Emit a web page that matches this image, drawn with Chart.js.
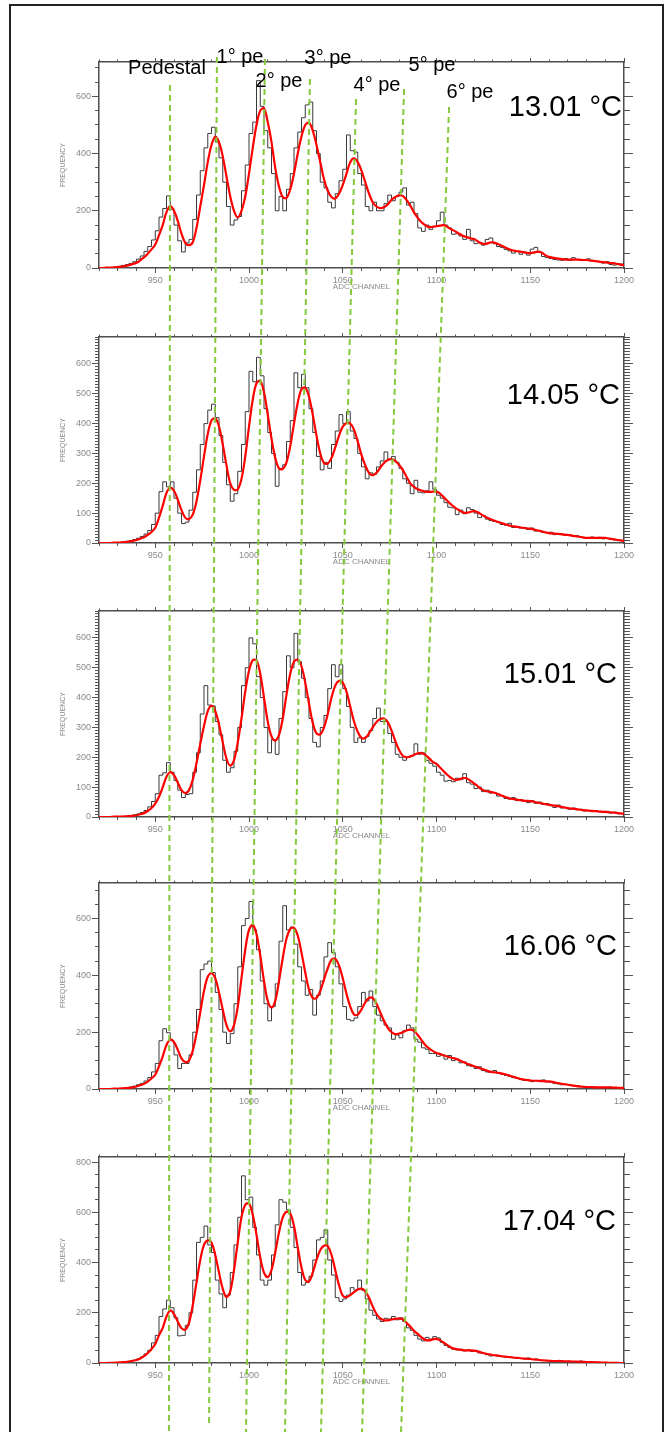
<!DOCTYPE html>
<html lang="en">
<head>
  <meta charset="UTF-8">
  <title>ADC spectra vs temperature</title>
  <script src="https://cdn.jsdelivr.net/npm/chart.js"></script>
  <style>
    body {
      margin: 0;
      width: 665px;
      height: 1432px;
      position: relative;
      overflow: hidden;
      background: #fff;
      font-family: 'Liberation Sans', Arial, sans-serif;
    }
    .frame {
      position: absolute;
      left: 9px;
      top: 4px;
      width: 651px;
      height: 1460px;
      border: 2px solid #222;
    }
    .panel { position: absolute; left: 55px; }
    #overlay { position: absolute; left: 0; top: 0; pointer-events: none; z-index: 2; }
    .pe {
      position: absolute;
      font-size: 20px;
      line-height: 1;
      white-space: nowrap;
      transform: translate(-50%, -49%);
      z-index: 3;
    }
    .temp {
      position: absolute;
      font-size: 29px;
      line-height: 1;
      white-space: nowrap;
      z-index: 3;
    }
  </style>
</head>
<body>
  <div class="frame"></div>

  <canvas class="panel" id="p0" width="583" height="240" style="top:54px"></canvas>
  <canvas class="panel" id="p1" width="583" height="240" style="top:329px"></canvas>
  <canvas class="panel" id="p2" width="583" height="240" style="top:603px"></canvas>
  <canvas class="panel" id="p3" width="583" height="240" style="top:875px"></canvas>
  <canvas class="panel" id="p4" width="583" height="240" style="top:1149px"></canvas>
  <canvas id="overlay" width="665" height="1432"></canvas>

  <!-- peak labels -->
  <div class="pe" style="left:167px; top:67px">Pedestal</div>
  <div class="pe" style="left:240px; top:56px">1° pe</div>
  <div class="pe" style="left:279px; top:80px">2° pe</div>
  <div class="pe" style="left:328px; top:57px">3° pe</div>
  <div class="pe" style="left:377px; top:84px">4° pe</div>
  <div class="pe" style="left:432px; top:64px">5° pe</div>
  <div class="pe" style="left:470px; top:91px">6° pe</div>

  <!-- temperatures -->
  <div class="temp" style="right:43px; top:92px">13.01 °C</div>
  <div class="temp" style="right:45px; top:380px">14.05 °C</div>
  <div class="temp" style="right:48px; top:659px">15.01 °C</div>
  <div class="temp" style="right:48px; top:931px">16.06 °C</div>
  <div class="temp" style="right:49px; top:1206px">17.04 °C</div>

  <script>
    // x axis: ADC channel, histogram bins of 2 channels from 920
    const channelMin = 920;
    const channelMax = 1200;
    const binWidth = 2;

    const yMaxes = [720, 690, 690, 725, 820];
    const yMajorSteps = [200, 100, 100, 200, 200];
    const yMinorSteps = [50, 10, 10, 50, 50];

    // histogram counts per 2-channel bin (140 bins, 920..1198)
    const hist1301 = [
      0, 0, 1, 2, 2, 4, 6, 9, 12, 16,
      22, 31, 42, 58, 75, 98, 130, 178, 208, 252,
      205, 150, 95, 56, 88, 100, 170, 255, 340, 420,
      470, 492, 440, 385, 300, 215, 150, 168, 180, 270,
      360, 470, 510, 655, 565, 480, 420, 330, 200, 250,
      200, 275, 330, 420, 475, 525, 570, 580, 480, 400,
      300, 280, 230, 210, 260, 305, 345, 465, 410, 405,
      330, 290, 215, 200, 230, 200, 200, 225, 255, 235,
      250, 265, 280, 220, 230, 190, 140, 128, 150, 135,
      145, 165, 195, 150, 140, 118, 120, 112, 100, 135,
      95, 85, 88, 80, 100, 105, 85, 75, 72, 65,
      60, 52, 58, 48, 56, 45, 66, 72, 55, 40,
      36, 33, 30, 28, 27, 33, 27, 36, 30, 27,
      28, 32, 25, 24, 22, 17, 22, 12, 10, 14
    ];
    const hist1405 = [
      0, 0, 0, 0, 1, 1, 2, 4, 6, 8,
      12, 16, 22, 30, 42, 62, 100, 172, 205, 188,
      205, 150, 100, 65, 70, 110, 170, 245, 330, 400,
      445, 465, 420, 360, 270, 195, 140, 165, 240, 330,
      440, 575, 540, 622, 560, 450, 370, 300, 190, 250,
      262, 340, 410, 570, 520, 565, 520, 450, 370, 290,
      245, 270, 250, 330, 375, 430, 400, 440, 375, 350,
      300, 255, 215, 235, 230, 255, 275, 305, 280, 290,
      270, 250, 215, 200, 165, 210, 170, 168, 175, 205,
      180, 160, 150, 135, 120, 118, 95, 110, 98, 118,
      112, 100, 85, 92, 80, 75, 72, 70, 62, 60,
      66, 52, 55, 50, 52, 45, 50, 40, 42, 35,
      34, 36, 28, 32, 30, 26, 28, 22, 24, 20,
      17, 16, 20, 15, 19, 14, 15, 12, 10, 8
    ];
    const hist1501 = [
      0, 0, 0, 0, 1, 1, 1, 2, 3, 5,
      7, 10, 15, 22, 34, 52, 78, 140, 148, 182,
      150, 122, 90, 65, 75, 78, 150, 215, 345, 440,
      375, 372, 320, 275, 190, 150, 165, 220, 300, 440,
      500, 600, 580, 470, 400, 300, 215, 260, 210, 330,
      420, 540, 500, 615, 520, 465, 400, 330, 250, 235,
      300, 340, 430, 510, 470, 510, 430, 370, 300, 250,
      265, 250, 270, 290, 330, 365, 320, 320, 280, 250,
      210, 200, 190, 200, 205, 245, 210, 215, 190, 180,
      170, 150, 140, 120, 122, 118, 130, 125, 145, 115,
      110, 95, 100, 85, 90, 80, 82, 70, 72, 62,
      60, 65, 55, 58, 52, 48, 55, 46, 50, 42,
      45, 38, 32, 40, 30, 32, 26, 30, 24, 26,
      20, 22, 18, 21, 17, 15, 19, 13, 16, 11
    ];
    const hist1606 = [
      0, 0, 0, 0, 1, 1, 2, 3, 5, 7,
      10, 15, 20, 28, 40, 60, 90, 170, 212, 198,
      170, 120, 72, 90, 90, 120, 200, 280, 420, 440,
      450, 410, 340, 280, 200, 160, 195, 300, 430, 575,
      600, 660, 560, 490, 380, 300, 240, 290, 370, 520,
      645, 560, 570, 510, 430, 380, 330, 350, 260, 330,
      380, 465, 515, 480, 430, 370, 290, 245, 240, 250,
      290, 340, 310, 345, 290, 260, 240, 225, 215, 175,
      190, 180, 205, 225, 215, 175, 165, 145, 140, 125,
      125, 115, 120, 105, 118, 100, 105, 92, 95, 82,
      80, 72, 78, 65, 60, 58, 65, 55, 52, 48,
      45, 40, 38, 33, 30, 32, 26, 30, 26, 32,
      25, 24, 20, 18, 15, 16, 14, 12, 12, 8,
      7, 8, 6, 7, 5, 6, 5, 6, 4, 5
    ];
    const hist1704 = [
      0, 0, 0, 0, 1, 1, 2, 3, 5, 7,
      11, 16, 24, 36, 50, 80, 110, 185, 215, 250,
      220, 180, 108, 110, 150, 200, 330, 480, 500, 545,
      470, 440, 330, 275, 220, 270, 360, 470, 580, 745,
      650, 660, 540, 430, 330, 310, 330, 430, 550, 650,
      640, 610, 540, 460, 360, 310, 320, 345, 410, 490,
      500, 530, 410, 350, 260, 245, 255, 270, 300, 290,
      330, 290, 255, 210, 190, 175, 165, 178, 175, 185,
      172, 180, 165, 140, 130, 110, 95, 88, 102, 95,
      105, 100, 82, 70, 62, 55, 52, 55, 48, 52,
      46, 50, 40, 38, 33, 28, 30, 27, 25, 24,
      22, 21, 19, 18, 16, 20, 14, 16, 11, 10,
      9, 8, 9, 7, 8, 6, 7, 5, 6, 8,
      4, 4, 3, 4, 2, 2, 2, 1, 1, 0
    ];

    // multi-peak fit, sampled every 2 channels (141 points, 920..1200)
    const fit1301 = [
      0, 0, 1, 1, 2, 3, 5, 7, 10, 14,
      18, 27, 37, 50, 65, 82, 115, 150, 195, 216,
      200, 165, 120, 88, 80, 90, 140, 215, 290, 370,
      430, 459, 440, 390, 320, 250, 200, 177, 200, 250,
      330, 420, 500, 550, 558, 510, 440, 350, 285, 248,
      245, 275, 330, 400, 460, 500, 508, 480, 430, 370,
      310, 270, 248, 243, 260, 290, 330, 370, 383, 370,
      340, 300, 260, 230, 215, 209, 212, 222, 238, 248,
      254, 252, 238, 218, 195, 175, 160, 150, 143, 144,
      146, 148, 150, 143, 135, 128, 120, 113, 108, 104,
      101, 93, 86, 84, 88, 90, 86, 80, 74, 68,
      63, 60, 58, 56, 53, 52, 54, 57, 54, 45,
      39, 36, 34, 32, 30, 29, 29, 29, 29, 28,
      28, 26, 25, 23, 21, 20, 18, 17, 15, 12,
      10
    ];
    const fit1405 = [
      0, 0, 0, 0, 1, 1, 2, 3, 5, 7,
      10, 14, 19, 27, 37, 51, 85, 125, 168, 185,
      175, 145, 110, 85, 80, 95, 140, 210, 290, 365,
      410, 418, 390, 330, 260, 200, 178, 180, 215, 290,
      390, 480, 535, 543, 505, 430, 350, 285, 250, 248,
      270, 325, 400, 470, 515, 520, 490, 430, 360, 300,
      268, 266, 285, 320, 360, 390, 402, 400, 380, 340,
      295, 260, 235, 227, 235, 252, 268, 278, 281, 275,
      262, 245, 222, 200, 188, 180, 176, 172, 171, 172,
      172, 165, 152, 140, 128, 118, 110, 103, 101, 104,
      107, 103, 95, 88, 82, 77, 72, 68, 64, 60,
      57, 55, 53, 51, 49, 48, 45, 42, 39, 36,
      33, 32, 31, 30, 28, 27, 25, 23, 21, 19,
      17, 17, 17, 17, 17, 17, 15, 13, 11, 9,
      7
    ];
    const fit1501 = [
      0, 0, 0, 0, 1, 1, 1, 2, 3, 4,
      6, 9, 13, 20, 30, 45, 68, 100, 135, 150,
      140, 115, 90, 80, 90, 125, 180, 245, 305, 355,
      372, 355, 310, 250, 195, 172, 190, 250, 330, 420,
      490, 525, 525, 480, 400, 320, 270, 256, 275, 330,
      410, 480, 520, 527, 505, 450, 380, 315, 280, 277,
      300, 345, 400, 440, 456, 450, 420, 370, 320, 285,
      265, 265, 280, 300, 318, 328, 330, 318, 290, 255,
      225, 205, 200, 203, 208, 213, 215, 208, 197, 185,
      178, 165, 152, 140, 130, 124, 126, 130, 130, 122,
      113, 103, 93, 87, 85, 83, 79, 74, 69, 64,
      61, 59, 57, 55, 54, 53, 51, 48, 46, 43,
      41, 39, 37, 35, 32, 30, 28, 27, 25, 23,
      22, 21, 20, 19, 18, 17, 16, 15, 14, 12,
      11
    ];
    const fit1606 = [
      0, 0, 0, 0, 1, 1, 2, 3, 4, 6,
      9, 13, 18, 26, 37, 50, 80, 115, 155, 174,
      165, 138, 108, 95, 100, 135, 195, 270, 345, 395,
      408, 390, 340, 280, 225, 203, 225, 290, 390, 490,
      560, 578, 545, 470, 380, 310, 287, 310, 380, 460,
      530, 563, 567, 540, 480, 410, 350, 320, 320, 345,
      385, 425, 455, 458, 435, 390, 335, 290, 262, 262,
      280, 305, 320, 320, 300, 270, 240, 215, 200, 193,
      195, 200, 206, 209, 205, 190, 172, 155, 143, 134,
      127, 123, 118, 114, 110, 107, 102, 96, 90, 85,
      80, 76, 71, 67, 62, 59, 58, 56, 53, 49,
      45, 41, 37, 34, 32, 30, 29, 29, 28, 27,
      27, 25, 22, 19, 17, 15, 13, 11, 9, 8,
      7, 7, 6, 6, 6, 6, 6, 5, 5, 4,
      4
    ];
    const fit1704 = [
      0, 0, 0, 1, 1, 2, 3, 4, 6, 9,
      12, 18, 27, 40, 56, 76, 110, 140, 185, 209,
      195, 165, 138, 133, 160, 230, 320, 410, 470, 488,
      480, 430, 360, 295, 262, 285, 370, 480, 580, 630,
      635, 590, 510, 420, 360, 342, 370, 440, 520, 580,
      602, 595, 545, 460, 380, 330, 325, 360, 410, 450,
      467, 465, 430, 370, 310, 268, 262, 270, 282, 293,
      296, 285, 260, 225, 195, 178, 170, 170, 173, 176,
      177, 174, 160, 145, 128, 116, 102, 92, 90, 94,
      96, 90, 80, 70, 61, 56, 53, 51, 50, 50,
      49, 46, 42, 38, 35, 32, 30, 28, 26, 24,
      23, 21, 20, 18, 17, 16, 14, 13, 11, 10,
      9, 8, 8, 8, 7, 7, 6, 6, 5, 5,
      4, 4, 3, 3, 2, 2, 1, 1, 1, 0,
      0
    ];

    const histograms = [hist1301, hist1405, hist1501, hist1606, hist1704];
    const fits = [fit1301, fit1405, fit1501, fit1606, fit1704];

    // green guide lines: ADC channel where each line starts (top) and ends (bottom of figure)
    const guideTopChannel = [957.9, 982.9, 1008.5, 1032.5, 1057.1, 1082.7, 1106.7];
    const guideBottomChannel = [957.3, 978.7, 998.4, 1019.2, 1038.4, 1060.3, 1081.1];
    const guideTopRow = [85, 57, 59, 79, 99, 89, 107];
    const guideBottomRow = [1432, 1425, 1432, 1432, 1432, 1432, 1432];

    const FONT = "'Liberation Sans', Arial, sans-serif";
    const AXIS_COLOR = '#4d4d4d';
    const LABEL_COLOR = '#8a8a8a';

    // ticks on every multiple of step inside the axis range
    function onStep(step) {
      return s => {
        const ticks = [];
        for (let v = Math.ceil(s.min / step) * step; v <= s.max + 1e-9; v += step) {
          ticks.push({ value: v });
        }
        s.ticks = ticks;
      };
    }

    // one side of the frame: a scale that only draws tick marks (and the border when major)
    function side(position, min, max, step, tickLen, size, weight, major) {
      const horizontal = position === 'top' || position === 'bottom';
      return {
        type: 'linear',
        position,
        min,
        max,
        weight,
        afterBuildTicks: onStep(step),
        afterFit: s => { if (horizontal) s.height = size; else s.width = size; },
        grid: { drawOnChartArea: false, drawTicks: true, tickLength: tickLen, tickColor: '#555', tickWidth: 1 },
        border: { display: major, color: AXIS_COLOR, width: 1.5 },
        ticks: { display: false, autoSkip: false },
        title: { display: false }
      };
    }

    function makeScales(p) {
      const ymax = yMaxes[p];
      const x = side('bottom', channelMin, channelMax, 50, 5, 26, 1, true);
      x.ticks = {
        display: true, autoSkip: false, maxRotation: 0, padding: 2,
        color: LABEL_COLOR, font: { family: FONT, size: 9 },
        callback: v => String(v)
      };
      x.title = { display: true, text: 'ADC CHANNEL', color: LABEL_COLOR, font: { family: FONT, size: 8 }, padding: { top: 0, bottom: 2 } };

      const y = side('left', 0, ymax, yMajorSteps[p], 7, 44, 1, true);
      y.ticks = {
        display: true, autoSkip: false, padding: 1,
        color: LABEL_COLOR, font: { family: FONT, size: 9 },
        callback: v => String(v)
      };
      y.title = { display: true, text: 'FREQUENCY', color: LABEL_COLOR, font: { family: FONT, size: 7 }, padding: { top: 4, bottom: 0 } };

      return {
        x,
        xMinor: side('bottom', channelMin, channelMax, 10, 3, 0, 0, false),
        xTop: side('top', channelMin, channelMax, 50, 4, 8, 1, true),
        xTopMinor: side('top', channelMin, channelMax, 10, 2.5, 0, 0, false),
        y,
        yMinor: side('left', 0, ymax, yMinorSteps[p], 4, 0, 0, false),
        yRight: side('right', 0, ymax, yMajorSteps[p], 9, 14, 1, true),
        yRightMinor: side('right', 0, ymax, yMinorSteps[p], 6, 0, 0, false)
      };
    }

    histograms.forEach((hist, p) => {
      const histPoints = hist.map((v, i) => ({ x: channelMin + i * binWidth, y: v }));
      histPoints.push({ x: channelMax, y: hist[hist.length - 1] });
      const fitPoints = fits[p].map((v, i) => ({ x: channelMin + i * binWidth, y: v }));

      new Chart(document.getElementById('p' + p), {
        type: 'line',
        data: {
          datasets: [
            { data: fitPoints, borderColor: '#ff0000', borderWidth: 2.2, pointRadius: 0, tension: 0.35, order: 0 },
            { data: histPoints, borderColor: '#3a3a3a', borderWidth: 1, pointRadius: 0, stepped: 'after', order: 1 }
          ]
        },
        options: {
          responsive: false,
          animation: false,
          events: [],
          layout: { padding: 0 },
          plugins: { legend: { display: false }, tooltip: { enabled: false } },
          scales: makeScales(p)
        }
      });
    });

    // dashed green guides across all panels, on the same channel scale
    new Chart(document.getElementById('overlay'), {
      type: 'line',
      data: {
        datasets: guideTopChannel.map((top, i) => ({
          data: [
            { x: top, y: guideTopRow[i] },
            { x: guideBottomChannel[i], y: guideBottomRow[i] }
          ],
          borderColor: '#86c93c',
          borderWidth: 2,
          borderDash: [6, 4],
          pointRadius: 0,
          clip: false
        }))
      },
      options: {
        responsive: false,
        animation: false,
        events: [],
        layout: { padding: { left: 99, right: 41, top: 0, bottom: 0 } },
        plugins: { legend: { display: false }, tooltip: { enabled: false } },
        scales: {
          x: { type: 'linear', min: channelMin, max: channelMax, display: false },
          y: { type: 'linear', min: 0, max: 1432, reverse: true, display: false }
        }
      }
    });
  </script>
</body>
</html>
